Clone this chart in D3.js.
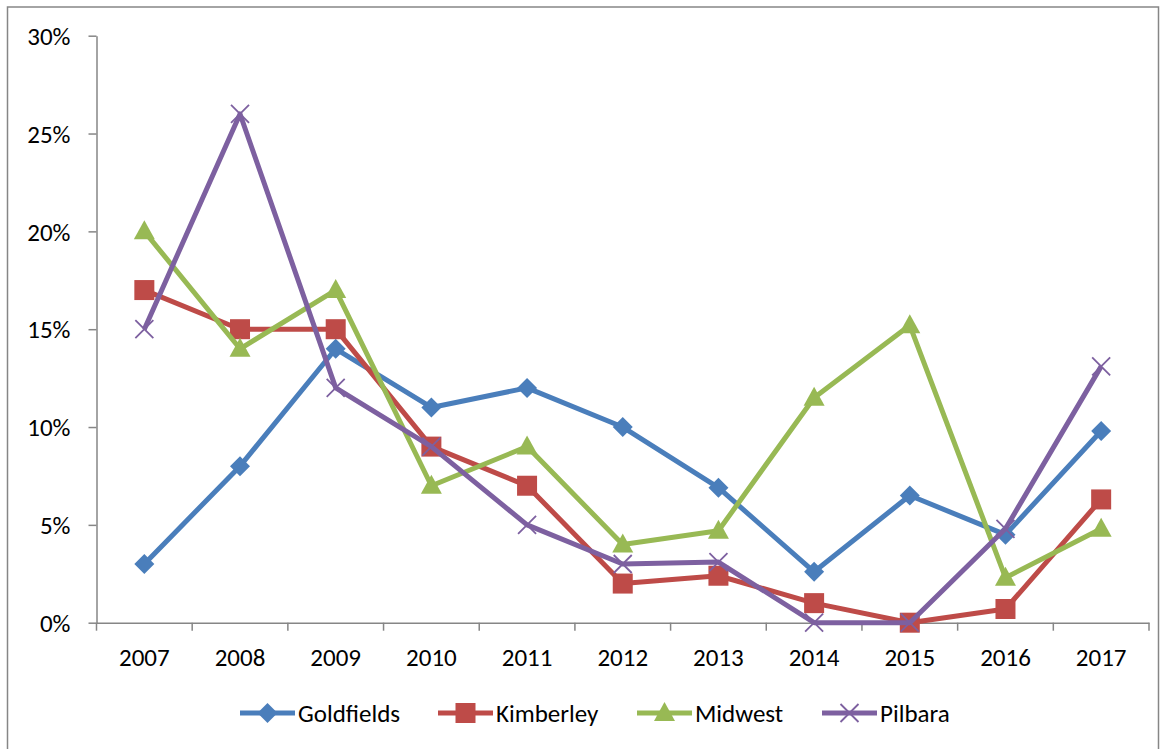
<!DOCTYPE html>
<html><head><meta charset="utf-8">
<script src="https://cdn.jsdelivr.net/npm/d3@7"></script>
<style>
body{margin:0;background:#fff;}
svg text{font-family:Carlito,Calibri,"Liberation Sans",Arial,sans-serif;fill:#000;}
</style></head>
<body><svg id="c" width="1166" height="749"></svg>
<script>
const years = ["2007","2008","2009","2010","2011","2012","2013","2014","2015","2016","2017"];
const goldfields = [3, 8, 14, 11, 12, 10, 6.9, 2.6, 6.5, 4.5, 9.8];
const kimberley  = [17, 15, 15, 9, 7, 2, 2.4, 1.0, 0, 0.7, 6.3];
const midwest    = [20, 14, 17, 7, 9, 4, 4.7, 11.5, 15.2, 2.3, 4.8];
const pilbara    = [15, 26, 12, 9, 5, 3, 3.1, 0, 0, 4.8, 13.1];
const yTicks = [0, 5, 10, 15, 20, 25, 30];
const seriesNames = ["Goldfields","Kimberley","Midwest","Pilbara"];
const seriesColors = ["#4A7EBB","#BE4B48","#98B954","#7D60A0"];
const seriesShapes = ["diamond","square","triangle","x"];
const seriesValues = [goldfields, kimberley, midwest, pilbara];

(function(){
const svg = d3.select("#c");
svg.append("rect").attr("x",7.5).attr("y",7).attr("width",1151).attr("height",750)
  .attr("fill","#fff").attr("stroke","#868686").attr("stroke-width",1.5);

const pL=96.5, pR=1149, pT=35.7, pB=622.7;
const FS = 25;
const x = d3.scaleBand().domain(years).range([pL,pR]);
const y = d3.scaleLinear().domain([0,30]).range([pB,pT]);

// y axis
const ya = svg.append("g").attr("transform",`translate(${pL},0)`)
  .call(d3.axisLeft(y).tickValues(yTicks).tickFormat(d=>d+"%").tickSize(8).tickSizeOuter(0));
ya.attr("font-family",null).attr("font-size",FS);
ya.select(".domain").attr("stroke","#868686").attr("stroke-width",1.5);
ya.selectAll(".tick line").attr("stroke","#868686").attr("stroke-width",1.5);
ya.selectAll(".tick text").attr("x",-26).attr("dy","0.35em");

// x axis
const xa = svg.append("g").attr("transform",`translate(0,${pB})`)
  .call(d3.axisBottom(x).tickSize(0).tickSizeOuter(0));
xa.attr("font-family",null).attr("font-size",FS);
xa.select(".domain").attr("stroke","#868686").attr("stroke-width",1.5);
xa.selectAll(".tick text").attr("y",35).attr("dy","0.35em");
const bounds = years.map(v=>x(v)).concat([pR]);
xa.selectAll(".bt").data(bounds).enter().append("line").attr("class","bt")
  .attr("x1",d=>d).attr("x2",d=>d).attr("y1",0).attr("y2",8)
  .attr("stroke","#868686").attr("stroke-width",1.5);

function marker(g, shape, color, cx, cy){
  if(shape==="diamond"){
    g.append("path").attr("d",`M${cx},${cy-10}L${cx+10},${cy}L${cx},${cy+10}L${cx-10},${cy}Z`).attr("fill",color);
  } else if(shape==="square"){
    g.append("rect").attr("x",cx-10).attr("y",cy-10).attr("width",20).attr("height",20).attr("fill",color);
  } else if(shape==="triangle"){
    g.append("path").attr("d",`M${cx},${cy-11}L${cx+10.5},${cy+8}L${cx-10.5},${cy+8}Z`).attr("fill",color);
  } else {
    g.append("path").attr("d",`M${cx-9},${cy-9}L${cx+9},${cy+9}M${cx+9},${cy-9}L${cx-9},${cy+9}`)
      .attr("stroke",color).attr("stroke-width",1.8).attr("fill","none");
  }
}

const line = d3.line().x((d,i)=>x(years[i])+x.bandwidth()/2).y(d=>y(d));
seriesValues.forEach((vals,si)=>{
  const g = svg.append("g");
  g.append("path").datum(vals).attr("d",line).attr("fill","none")
    .attr("stroke",seriesColors[si]).attr("stroke-width",5).attr("stroke-linejoin","round");
  vals.forEach((v,i)=>marker(g, seriesShapes[si], seriesColors[si], x(years[i])+x.bandwidth()/2, y(v)));
});

// legend
const legY = 713;
const legX = [240, 438, 637, 822];
seriesNames.forEach((n,i)=>{
  const it = svg.append("g").attr("transform",`translate(${legX[i]},${legY})`);
  it.append("line").attr("x1",0).attr("x2",55).attr("y1",0).attr("y2",0)
    .attr("stroke",seriesColors[i]).attr("stroke-width",5);
  marker(it, seriesShapes[i], seriesColors[i], 27.5, 0);
  it.append("text").attr("x",58).attr("y",0).attr("dy","0.35em").attr("font-size",FS).text(n);
});
})();
</script></body></html>
